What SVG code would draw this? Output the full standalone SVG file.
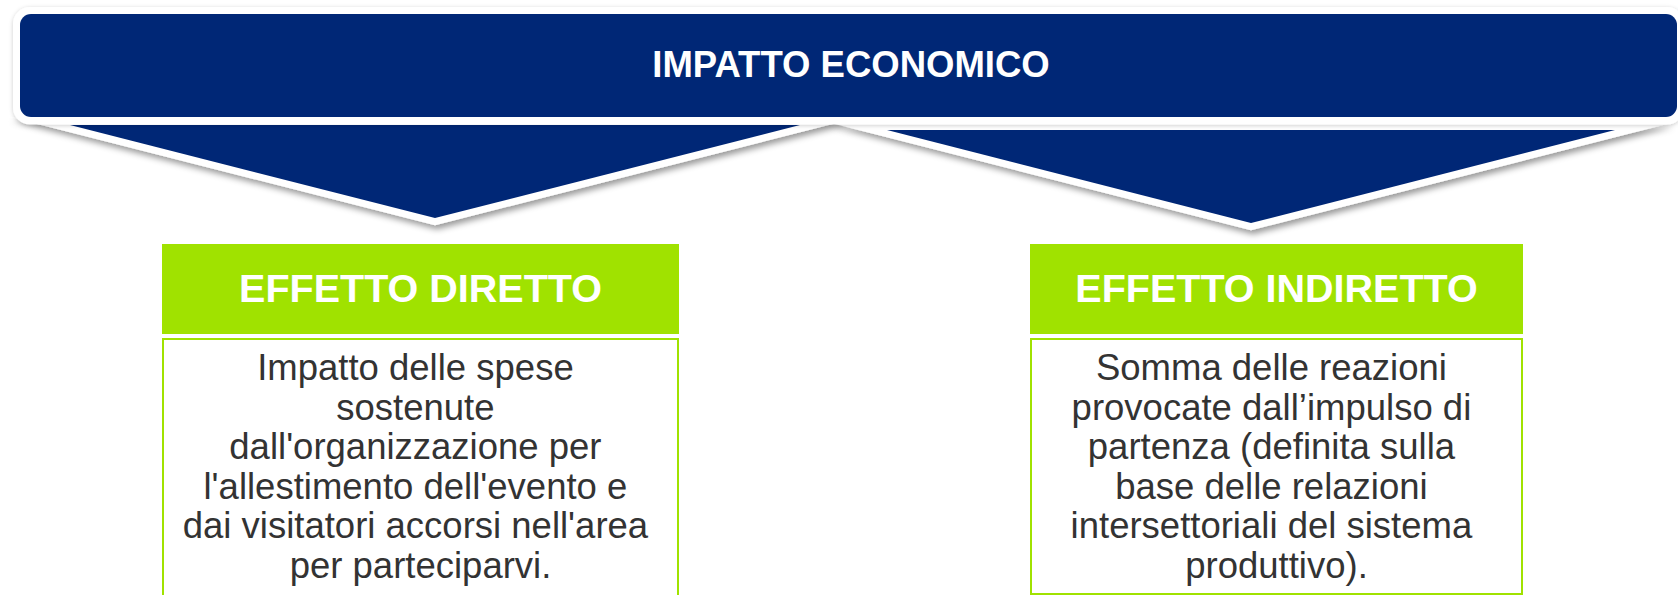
<svg xmlns="http://www.w3.org/2000/svg" width="1678" height="595" viewBox="0 0 1678 595">
  <style>
    .blue { fill: #002776; }
    .edge { fill: #ffffff; filter: url(#shadow); }
    .hdr { fill: #A0E200; }
    .body { fill: #ffffff; stroke: #A0E200; stroke-width: 2; }
    .title { font-family: "Liberation Sans", Arial, sans-serif; font-weight: bold; fill: #ffffff; text-anchor: middle; }
    .txt { font-family: "Liberation Sans", Arial, sans-serif; font-size: 36.5px; fill: #333333; text-anchor: middle; }
  </style>
  <defs>
    <filter id="shadow" x="-5%" y="-20%" width="110%" height="150%">
      <feDropShadow dx="2" dy="4" stdDeviation="3" flood-color="#000000" flood-opacity="0.4"/>
    </filter>
    <filter id="shadowSoft" x="-5%" y="-20%" width="110%" height="150%">
      <feDropShadow dx="0" dy="1" stdDeviation="2" flood-color="#000000" flood-opacity="0.2"/>
    </filter>
  </defs>
  <rect width="1678" height="595" fill="#ffffff"/>

  <g id="chevron-left">
    <polygon class="edge" points="10,117 435,225.2 860,117"/>
    <polygon class="blue" points="70,125 435,218 800,125"/>
  </g>
  <g id="chevron-right">
    <polygon class="edge" points="831,123 1251,230.2 1671,123"/>
    <polygon class="blue" points="887,130 1251,223 1615,130"/>
  </g>

  <g id="banner">
    <rect x="13" y="7" width="1671" height="117.5" rx="17" fill="#ffffff" filter="url(#shadowSoft)"/>
    <rect class="blue" x="20" y="14" width="1657" height="103" rx="11"/>
    <text class="title" x="851" y="77" font-size="36.5">IMPATTO ECONOMICO</text>
  </g>

  <g id="effetto-diretto">
    <rect class="hdr" x="162" y="244" width="517" height="90"/>
    <text class="title" x="420.5" y="302" font-size="39.5">EFFETTO DIRETTO</text>
    <rect class="body" x="163" y="339" width="515" height="258"/>
    <text class="txt">
      <tspan x="420.5" y="380">Impatto delle spese</tspan>
      <tspan x="420.5" y="419.6">sostenute</tspan>
      <tspan x="420.5" y="459.2">dall'organizzazione per</tspan>
      <tspan x="420.5" y="498.8">l'allestimento dell'evento e</tspan>
      <tspan x="420.5" y="538.4">dai visitatori accorsi nell'area</tspan>
      <tspan x="420.5" y="578">per parteciparvi.</tspan>
    </text>
  </g>

  <g id="effetto-indiretto">
    <rect class="hdr" x="1030" y="244" width="493" height="90"/>
    <text class="title" x="1276.5" y="302" font-size="39.5">EFFETTO INDIRETTO</text>
    <rect class="body" x="1031" y="339" width="491" height="255"/>
    <text class="txt">
      <tspan x="1276.5" y="380">Somma delle reazioni</tspan>
      <tspan x="1276.5" y="419.6">provocate dall’impulso di</tspan>
      <tspan x="1276.5" y="459.2">partenza (definita sulla</tspan>
      <tspan x="1276.5" y="498.8">base delle relazioni</tspan>
      <tspan x="1276.5" y="538.4">intersettoriali del sistema</tspan>
      <tspan x="1276.5" y="578">produttivo).</tspan>
    </text>
  </g>

  <g id="connectors"></g>
</svg>
